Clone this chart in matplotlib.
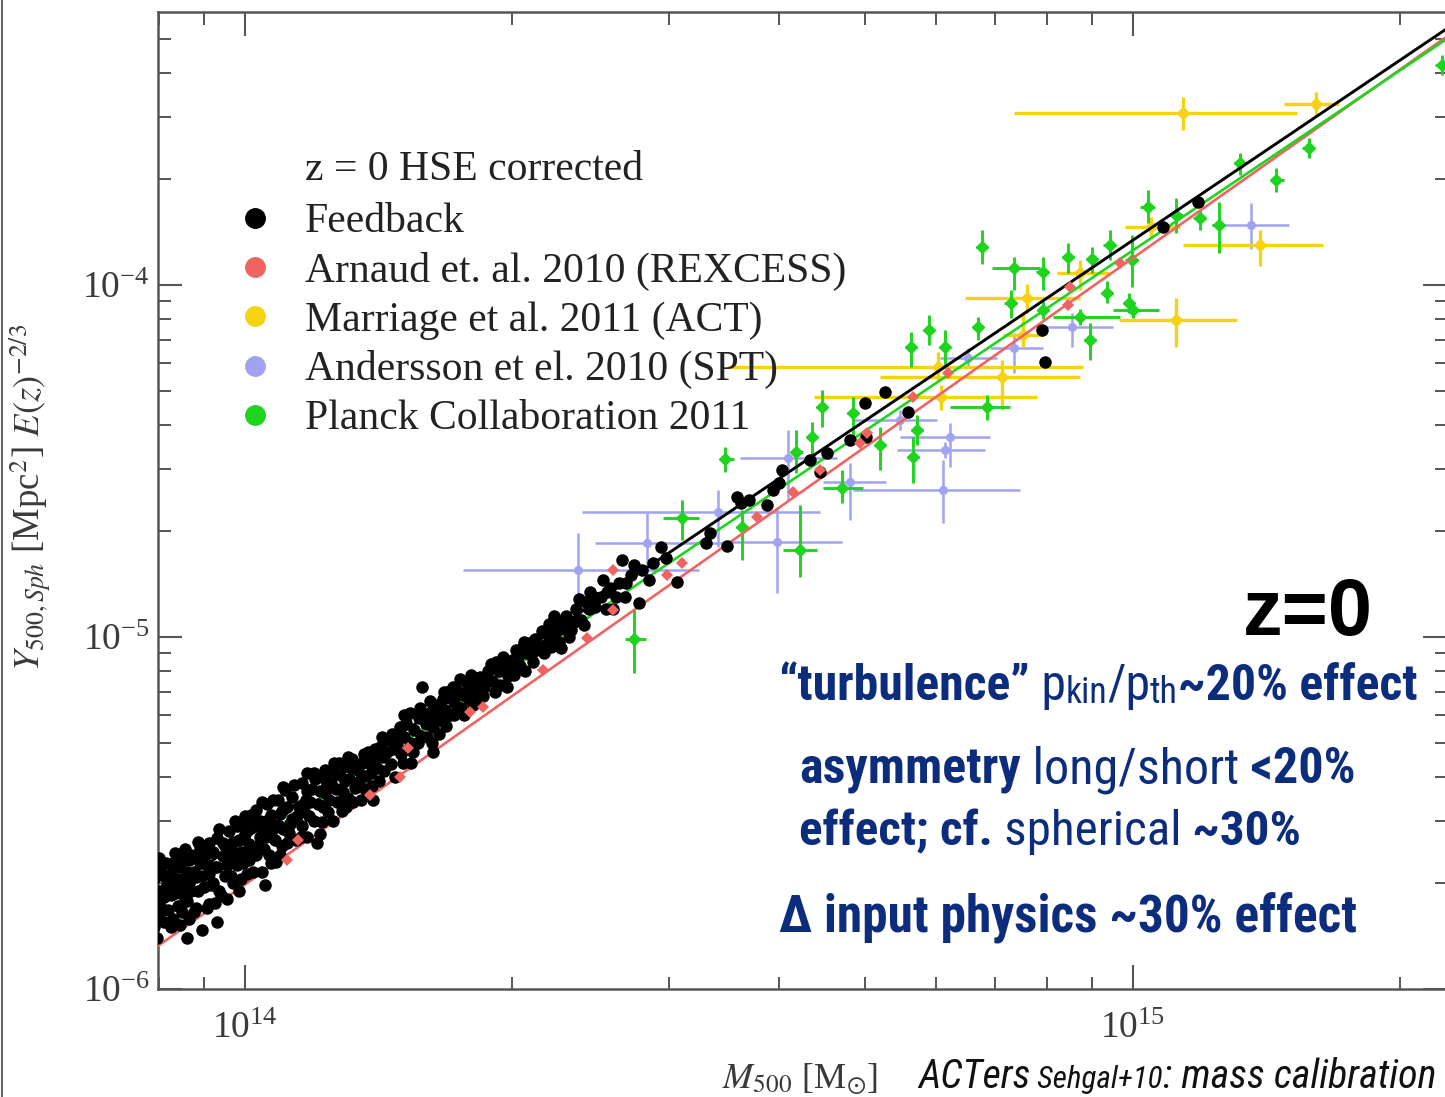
import numpy as np
import matplotlib
matplotlib.use("Agg")
import matplotlib.pyplot as plt
from matplotlib import font_manager
from matplotlib.lines import Line2D
from matplotlib.ticker import NullFormatter

# Feedback simulation haloes: M500 in 1e14 Msun, Y500 in 1e-5 Mpc^2
fb_mass = [
    0.79, 0.79, 0.79, 0.80, 0.80, 0.80, 0.81, 0.81, 0.81, 0.82, 0.82,
    0.83, 0.83, 0.83, 0.84, 0.84, 0.85, 0.85, 0.85, 0.86, 0.86, 0.86,
    0.87, 0.87, 0.88, 0.88, 0.89, 0.89, 0.894, 0.90, 0.90, 0.91, 0.91, 0.91,
    0.92, 0.92, 0.93, 0.93, 0.93, 0.94, 0.95, 0.95, 0.96, 0.96, 0.97,
    0.97, 0.98, 0.98, 0.99, 0.99, 1.00, 1.00, 1.01, 1.01, 1.02, 1.02,
    1.03, 1.03, 1.04, 1.04, 1.053, 1.05, 1.06, 1.06, 1.07, 1.07, 1.08,
    1.09, 1.09, 1.10, 1.10, 1.11, 1.12, 1.13, 1.13, 1.14, 1.15,
    1.16, 1.16, 1.17, 1.174, 1.18, 1.19, 1.205, 1.20, 1.21, 1.22,
    1.23, 1.23, 1.24, 1.25, 1.26, 1.27, 1.28, 1.29, 1.30, 1.30,
    1.31, 1.32, 1.33, 1.34, 1.35, 1.36, 1.37, 1.38, 1.39, 1.40,
    1.41, 1.418, 1.43, 1.44, 1.457, 1.46, 1.47, 1.48, 1.495, 1.50,
    1.51, 1.52, 1.54, 1.54, 1.55, 1.57, 1.58, 1.582, 1.60, 1.63,
    1.62, 1.63, 1.64, 1.66, 1.67, 1.68, 1.69, 1.70,
    1.72, 1.73, 1.75, 1.76, 1.78, 1.79, 1.81, 1.82,
    1.84, 1.86, 1.88, 1.90, 1.92, 1.94, 1.96, 1.98,
    2.00, 2.02, 2.04, 2.06, 2.08, 2.10, 2.12, 2.14,
    2.16, 2.18, 2.20, 2.22, 2.24, 2.26, 2.28,
    2.30, 2.33, 2.36, 2.39, 2.42, 2.45, 2.48,
    2.52, 2.55, 2.58, 2.62, 2.66, 2.69, 2.72, 2.78,
    2.80, 2.85, 2.88, 2.94, 2.98, 3.065,
    3.31, 3.34, 3.49, 3.58, 3.62, 3.70, 3.87, 3.93, 4.00, 4.03,
    4.33, 4.44, 4.52, 4.80, 5.01, 4.99, 5.26, 5.58, 7.96, 7.90,
    10.81, 11.84,
    # dense low-mass core
    0.795, 0.80, 0.805, 0.805, 0.815, 0.815, 0.825, 0.825, 0.825,
    0.835, 0.835, 0.845, 0.845, 0.845, 0.855, 0.855, 0.865, 0.865, 0.865,
    0.875, 0.875, 0.885, 0.885, 0.895, 0.895, 0.905, 0.905, 0.915, 0.915,
    0.925, 0.925, 0.935, 0.935, 0.945, 0.945, 0.955, 0.955, 0.965, 0.965,
    0.975, 0.975, 0.985, 0.985, 0.995, 0.995, 1.005, 1.005, 1.015, 1.015,
    1.035, 1.035, 1.045, 1.045, 1.055, 1.065, 1.065, 1.075, 1.075, 1.085,
    1.095, 1.095, 1.105, 1.105, 1.115, 1.115, 1.125, 1.135, 1.145, 1.155,
    1.165, 1.175, 1.175, 1.185, 1.195, 1.195, 1.215, 1.215, 1.225, 1.225,
    1.235, 1.245, 1.255, 1.255, 1.265, 1.275, 1.285, 1.295, 1.305, 1.305,
    1.315, 1.325, 1.345, 1.355, 1.365, 1.375, 1.385, 1.395, 1.405,
    1.415, 1.425, 1.435, 1.445, 1.465, 1.475, 1.485, 1.505, 1.51,
    1.525, 1.535, 1.545, 1.565, 1.575, 1.595, 1.605, 1.615, 1.625,
    1.635, 1.655, 1.665, 1.675, 1.685, 1.705, 1.715, 1.72,
    1.735, 1.745, 1.765, 1.775, 1.795, 1.805, 1.825, 1.835,
    1.855, 1.875, 1.895, 1.915, 1.935, 1.955, 1.975, 1.995,
    2.01, 2.03, 2.05, 2.07, 2.09, 2.11, 2.13,
    2.17, 2.19, 2.21, 2.23, 2.25, 2.27, 2.29,
    2.32, 2.35, 2.38, 2.41, 2.44, 2.47,
    2.53, 2.56, 2.60, 2.64, 2.68, 2.74,
]
fb_y = [
    0.150, 0.176, 0.205, 0.162, 0.19, 0.222, 0.155, 0.182, 0.21, 0.168, 0.198,
    0.158, 0.186, 0.228, 0.172, 0.205, 0.238, 0.165, 0.195, 0.215, 0.178, 0.140,
    0.19, 0.24, 0.208, 0.17, 0.228, 0.252, 0.147, 0.195, 0.235, 0.212, 0.174, 0.26,
    0.2, 0.245, 0.155, 0.222, 0.268, 0.185, 0.21, 0.255, 0.235, 0.282, 0.2,
    0.262, 0.225, 0.29, 0.245, 0.205, 0.275, 0.31, 0.232, 0.258, 0.295, 0.215,
    0.24, 0.322, 0.27, 0.3, 0.198, 0.25, 0.285, 0.335, 0.228, 0.312, 0.265,
    0.292, 0.345, 0.255, 0.32, 0.368, 0.278, 0.305, 0.352, 0.265, 0.33,
    0.385, 0.29, 0.345, 0.41, 0.31, 0.37, 0.26, 0.395, 0.335, 0.298,
    0.36, 0.42, 0.318, 0.385, 0.44, 0.34, 0.405, 0.362, 0.43, 0.33,
    0.395, 0.45, 0.372, 0.42, 0.345, 0.465, 0.402, 0.44, 0.378, 0.48,
    0.425, 0.487, 0.455, 0.51, 0.51, 0.435, 0.48, 0.53, 0.555, 0.465,
    0.52, 0.57, 0.439, 0.5, 0.545, 0.59, 0.525, 0.72, 0.565, 0.47,
    0.612, 0.555, 0.64, 0.58, 0.665, 0.62, 0.7, 0.6,
    0.655, 0.71, 0.63, 0.685, 0.74, 0.665, 0.72, 0.66,
    0.77, 0.72, 0.8, 0.75, 0.85, 0.73, 0.81, 0.775,
    0.86, 0.92, 0.83, 0.97, 0.9, 0.89, 0.99, 0.94,
    1.04, 0.95, 1.09, 1.0, 1.11, 0.97, 1.06,
    1.15, 1.05, 1.2, 1.12, 1.26, 1.34, 1.22,
    1.3, 1.2, 1.38, 1.3, 1.655, 1.42, 1.5, 1.25,
    1.55, 1.45, 1.62, 1.8, 1.68, 1.43,
    1.85, 1.975, 1.82, 2.5, 2.4, 2.45, 2.37, 2.61, 2.74, 2.98,
    3.18, 2.94, 3.33, 3.63, 3.70, 4.62, 4.97, 4.36, 6.04, 7.45,
    14.6, 17.2,
    # dense low-mass core
    0.14, 0.235, 0.17, 0.215, 0.195, 0.228, 0.15, 0.185, 0.212,
    0.2, 0.243, 0.152, 0.188, 0.222, 0.178, 0.25, 0.2, 0.232, 0.158,
    0.165, 0.215, 0.19, 0.262, 0.21, 0.24, 0.17, 0.225, 0.198, 0.245,
    0.175, 0.222, 0.19, 0.285, 0.238, 0.26, 0.18, 0.225, 0.25, 0.21,
    0.24, 0.3, 0.19, 0.265, 0.228, 0.3, 0.212, 0.285, 0.245, 0.312,
    0.255, 0.29, 0.215, 0.34, 0.27, 0.24, 0.305, 0.285, 0.345, 0.23,
    0.24, 0.315, 0.285, 0.375, 0.26, 0.33, 0.295, 0.38, 0.31, 0.27,
    0.32, 0.27, 0.365, 0.34, 0.3, 0.41, 0.365, 0.275, 0.33, 0.4,
    0.39, 0.345, 0.3, 0.415, 0.37, 0.44, 0.32, 0.39, 0.35, 0.455,
    0.425, 0.34, 0.39, 0.44, 0.37, 0.47, 0.41, 0.345, 0.45,
    0.39, 0.52, 0.415, 0.47, 0.53, 0.4, 0.5, 0.44, 0.6,
    0.48, 0.61, 0.47, 0.5, 0.63, 0.6, 0.52, 0.66, 0.5,
    0.59, 0.53, 0.62, 0.7, 0.56, 0.67, 0.72, 0.6,
    0.62, 0.76, 0.6, 0.7, 0.78, 0.64, 0.7, 0.75,
    0.68, 0.76, 0.84, 0.7, 0.8, 0.88, 0.72, 0.82,
    0.78, 0.88, 0.93, 0.8, 0.96, 0.85, 0.92,
    0.9, 1.02, 0.94, 1.15, 1.05, 0.93, 1.1,
    1.0, 1.1, 1.28, 1.08, 1.2, 1.3,
    1.45, 1.34, 1.2, 1.42, 1.3, 1.6,
]

# Arnaud et al. 2010 (REXCESS)
rex_mass = [1.115, 1.147, 1.383, 1.495, 1.526, 1.792, 1.854, 2.166, 2.427, 2.597, 2.597, 2.987,
            3.106, 3.772, 4.141, 4.442, 4.927, 5.017, 5.652, 6.19, 8.452, 8.492, 9.669]
rex_y = [0.2325, 0.265, 0.3556, 0.4002, 0.4838, 0.612, 0.633, 0.806, 0.994, 1.193, 1.55, 1.500,
         1.623, 2.193, 2.582, 2.981, 3.557, 3.797, 4.808, 5.623, 8.775, 9.87, 11.55]

# Marriage et al. 2011 (ACT)
act_mass = [11.4, 16.1, 13.9, 11.2, 10.5, 8.72, 7.60, 7.52, 7.12, 6.03, 6.08]
act_mass_lo = [7.36, 14.8, 11.4, 9.64, 9.80, 8.21, 6.47, 7.14, 5.19, 3.50, 4.37]
act_mass_hi = [15.3, 17.1, 16.4, 13.1, 11.3, 9.42, 8.72, 7.92, 8.72, 8.79, 7.80]
act_y = [30.8, 32.7, 13.0, 7.95, 14.6, 10.8, 9.19, 7.21, 5.48, 5.85, 4.81]
act_y_lo = [27.6, 30.4, 11.3, 6.67, 13.7, 9.7, 8.33, 6.67, 4.41, 5.37, 4.41]
act_y_hi = [34.2, 35.3, 14.3, 9.19, 15.6, 11.8, 10.1, 8.33, 6.12, 6.45, 5.20]

# Andersson et al. 2010 (SPT)
spt_mass = [2.37, 2.84, 3.41, 3.97, 4.09, 4.80, 5.47, 6.22, 6.14, 6.11, 6.52, 7.36, 8.54, 13.6]
spt_mass_lo = [1.76, 2.48, 2.40, 3.52, 3.61, 4.48, 4.84, 5.47, 5.42, 4.84, 6.06, 6.90, 7.80, 12.3]
spt_mass_hi = [3.25, 3.52, 4.44, 4.71, 4.64, 5.28, 6.02, 6.90, 6.81, 7.46, 7.03, 7.92, 9.50, 15.0]
spt_y = [1.55, 1.85, 2.27, 1.86, 3.23, 2.76, 4.14, 3.70, 3.40, 2.62, 6.20, 6.62, 7.60, 14.8]
spt_y_lo = [1.17, 1.48, 1.80, 1.33, 2.45, 2.15, 3.87, 3.04, 3.23, 2.11, 5.81, 5.62, 6.67, 12.7]
spt_y_hi = [1.98, 2.25, 2.62, 2.34, 3.87, 3.12, 4.41, 4.06, 3.58, 3.18, 6.62, 7.31, 8.33, 17.1]

# Planck Collaboration 2011
planck_mass = [2.74, 3.11, 3.47, 3.63, 4.18, 4.22, 4.35, 4.47, 4.71, 4.84,
               5.19, 5.62, 5.65, 5.71, 5.89, 6.14, 6.69, 6.85, 6.76, 7.36,
               7.92, 8.45, 8.99, 9.42, 9.97, 9.35, 8.72, 10.0, 8.95, 10.4,
               11.2, 11.9, 12.5, 13.2, 14.5, 15.8, 22.3, 7.29, 9.90, 7.92]
planck_mass_lo = [2.68, 2.96, 3.43, 3.57, 4.12, 4.04, 4.28, 4.40, 4.48, 4.77,
                  5.11, 5.54, 5.57, 5.63, 5.80, 6.05, 6.59, 6.22, 6.66, 6.94,
                  7.79, 8.32, 8.85, 9.27, 9.81, 9.20, 8.13, 9.50, 8.81, 10.2,
                  11.1, 11.7, 12.3, 13.0, 14.3, 15.5, 21.9, 7.17, 9.74, 7.80]
planck_mass_hi = [2.83, 3.25, 3.56, 3.69, 4.25, 4.41, 4.42, 4.53, 4.97, 4.91,
                  5.27, 5.71, 5.74, 5.80, 5.98, 6.23, 6.79, 7.27, 6.87, 7.86,
                  8.05, 8.59, 9.14, 9.57, 10.13, 9.50, 9.67, 10.7, 9.09, 10.6,
                  11.4, 12.1, 12.7, 13.4, 14.8, 16.0, 22.7, 7.41, 10.06, 8.05]
planck_y = [0.99, 2.18, 3.20, 2.05, 3.36, 1.77, 3.70, 4.50, 2.65, 4.33,
            3.51, 6.67, 3.25, 3.87, 7.45, 6.67, 7.60, 4.50, 12.8, 11.2,
            10.9, 12.0, 11.9, 13.0, 11.8, 9.49, 8.11, 8.49, 6.98, 16.7,
            15.8, 15.5, 14.8, 22.2, 19.9, 24.5, 42.2, 8.89, 8.89, 8.49]
planck_y_lo = [0.79, 1.89, 2.94, 1.66, 2.92, 1.48, 3.25, 3.95, 2.40, 3.70,
               2.98, 5.85, 2.74, 3.51, 6.75, 5.93, 6.98, 4.14, 11.5, 9.7,
               9.7, 10.8, 10.8, 11.8, 9.9, 8.89, 7.70, 8.07, 6.12, 15.0,
               14.1, 14.3, 12.3, 20.5, 18.4, 23.0, 39.5, 8.06, 8.33, 8.00]
planck_y_hi = [1.19, 2.45, 3.47, 2.30, 3.87, 2.37, 4.08, 5.03, 2.98, 4.81,
               3.95, 7.35, 3.70, 4.27, 8.22, 7.45, 8.11, 4.87, 14.3, 12.0,
               12.0, 13.2, 12.8, 14.3, 13.9, 10.3, 8.55, 8.94, 7.80, 18.6,
               17.7, 16.3, 17.2, 23.7, 21.5, 26.2, 45.0, 9.68, 9.49, 9.01]

# power-law fits, evaluated at two masses (straight lines in log-log)
fit_mass = [0.7, 25.0]
fit_feedback = [0.146, 63.6]
fit_arnaud = [0.105, 60.9]
fit_planck = [0.1365, 59.5]

legend_labels = ["Feedback", "Arnaud et. al. 2010 (REXCESS)", "Marriage et al. 2011 (ACT)",
                 "Andersson et el. 2010 (SPT)", "Planck Collaboration 2011"]

MSCALE, YSCALE = 1e14, 1e-5
W, H = 1445, 1097

BLACK = "#000000"
RED = "#ef6461"
YELLOW = "#f6d312"
BLUE = "#a0a3f0"
GREEN = "#1fd41f"
NAVY = "#0c2d7d"
GREY = "#3a3a3a"

avail = {f.name for f in font_manager.fontManager.ttflist}
NARROW = next((n for n in ("Liberation Sans Narrow", "Arial Narrow", "Roboto Condensed")
               if n in avail), "Liberation Sans")
SERIF = "Liberation Serif"

plt.rcParams["font.family"] = [SERIF, "DejaVu Serif"]
plt.rcParams["mathtext.fontset"] = "stix"


def errset(ax, m, mlo, mhi, y, ylo, yhi, color, marker, ms, lw, z):
    m, mlo, mhi = (np.asarray(a) * MSCALE for a in (m, mlo, mhi))
    y, ylo, yhi = (np.asarray(a) * YSCALE for a in (y, ylo, yhi))
    ax.errorbar(m, y, xerr=[m - mlo, mhi - m], yerr=[y - ylo, yhi - y],
                fmt=marker, color=color, mfc=color, mec=color, ms=ms,
                elinewidth=lw, capsize=0, zorder=z)


def rich_text(fig, x, base, pieces, size, width, family, color, style="normal"):
    """Lay out mixed-weight pieces on one baseline, scaled to a given pixel width."""
    renderer = fig.canvas.get_renderer()

    def place(s):
        arts, cur = [], x
        for txt, weight, rel, drop in pieces:
            t = fig.text(cur / W, 1 - (base + drop) / H, txt, fontsize=s * rel,
                         fontweight=weight, fontstyle=style, family=family,
                         color=color, ha="left", va="baseline")
            cur += t.get_window_extent(renderer).width
            arts.append(t)
        return arts, cur - x

    arts, w = place(size)
    for t in arts:
        t.remove()
    arts, _ = place(size * width / w)
    return arts


fig = plt.figure(figsize=(W / 100, H / 100), dpi=100)
ax = fig.add_axes([158 / W, 1 - 989 / H, (1447 - 158) / W, (989 - 12) / H])
ax.set_xscale("log")
ax.set_yscale("log")

errset(ax, spt_mass, spt_mass_lo, spt_mass_hi, spt_y, spt_y_lo, spt_y_hi, BLUE, "o", 5.5, 1.8, 2)
errset(ax, act_mass, act_mass_lo, act_mass_hi, act_y, act_y_lo, act_y_hi, YELLOW, "D", 6.5, 2.4, 2)
errset(ax, planck_mass, planck_mass_lo, planck_mass_hi, planck_y, planck_y_lo, planck_y_hi,
       GREEN, "D", 6.5, 2.1, 3)

fm = np.asarray(fit_mass) * MSCALE
ax.plot(fm, np.asarray(fit_arnaud) * YSCALE, color=RED, lw=1.9, zorder=4)
ax.plot(fm, np.asarray(fit_planck) * YSCALE, color=GREEN, lw=1.9, zorder=4)
ax.plot(fm, np.asarray(fit_feedback) * YSCALE, color=BLACK, lw=2.1, zorder=4)

ax.plot(np.asarray(fb_mass) * MSCALE, np.asarray(fb_y) * YSCALE, "o", color=BLACK,
        ms=9, mew=0, zorder=5)
ax.plot(np.asarray(rex_mass) * MSCALE, np.asarray(rex_y) * YSCALE, "D", color=RED,
        ms=6.5, mew=0, zorder=6)

ax.set_xlim(7.98e13, 2.26e15)
ax.set_ylim(1e-6, 5.97e-4)

for side in ax.spines.values():
    side.set_color("#555555")
    side.set_linewidth(1.8)
ax.tick_params(which="both", direction="in", top=True, right=True, colors="#555555",
               labelcolor=GREY, labelsize=27)
ax.tick_params(which="major", length=17, width=1.5)
ax.tick_params(which="minor", length=9, width=1.4)
ax.tick_params(axis="x", pad=16)
ax.tick_params(axis="y", pad=6)
ax.xaxis.set_minor_formatter(NullFormatter())
ax.yaxis.set_minor_formatter(NullFormatter())

ax.set_ylabel(r"$Y_{500,Sph}$ [Mpc$^2$] $E(z)^{-2/3}$", fontsize=26.5, color=GREY)
ax.yaxis.set_label_coords(-0.08, 0.503)

# legend
handles = [Line2D([], [], ls="none", marker="o", ms=14, mfc=c, mec=c)
           for c in (BLACK, RED, YELLOW, BLUE, GREEN)]
ax.legend(handles, legend_labels, loc="upper left",
          bbox_to_anchor=(238 / W, 1 - 203 / H), bbox_transform=fig.transFigure,
          frameon=False, prop={"family": SERIF, "size": 30}, labelcolor="#222222",
          handlelength=0.8, handletextpad=0.8, labelspacing=0.25,
          borderpad=0, borderaxespad=0)
fig.text(305 / W, 1 - 180 / H, "z = 0 HSE corrected", fontsize=30, family=SERIF,
         color="#222222", va="baseline")

# x axis label and caption
fig.text(722 / W, 1 - 1088 / H, r"$M_{500}$ [M$_{\odot}$]", fontsize=26, color=GREY,
         va="baseline")
rich_text(fig, 918, 1088,
          [("ACTers", "normal", 1, 0), (" Sehgal+10", "normal", 0.78, 0),
           (": mass calibration", "normal", 1, 0)],
          32, 518, NARROW, "#111111", style="italic")

# annotations
rich_text(fig, 1243, 635, [("z=0", "bold", 1, 0)], 55, 130, "Liberation Sans", "black")
rich_text(fig, 778, 700,
          [("\u201cturbulence\u201d", "bold", 1, 0), (" p", "normal", 1, 0),
           ("kin", "normal", 0.72, 3), ("/p", "normal", 1, 0), ("th", "normal", 0.72, 3),
           ("~20% effect", "bold", 1, 0)],
          34, 640, NARROW, NAVY)
rich_text(fig, 799, 783,
          [("asymmetry", "bold", 1, 0), (" long/short", "normal", 1, 0),
           (" <20%", "bold", 1, 0)],
          34, 557, NARROW, NAVY)
rich_text(fig, 799, 845,
          [("effect; cf.", "bold", 1, 0), (" spherical", "normal", 1, 0),
           (" ~30%", "bold", 1, 0)],
          34, 503, NARROW, NAVY)
rich_text(fig, 779, 932, [("\u0394 input physics ~30% effect", "bold", 1, 0)],
          34, 578, NARROW, NAVY)

# slide border on the left edge
fig.add_artist(Line2D([0.0012, 0.0012], [0, 1], transform=fig.transFigure,
                      color="#666666", lw=1.5))

fig.savefig("out.png", dpi=100)
